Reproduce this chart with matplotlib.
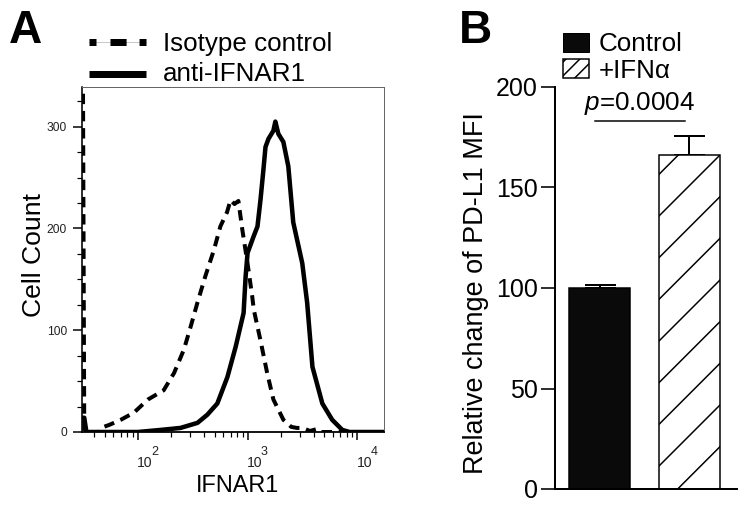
import matplotlib
matplotlib.use('Agg')
import matplotlib.pyplot as plt
from matplotlib.lines import Line2D
from matplotlib.patches import Rectangle
from matplotlib.ticker import FixedLocator, NullFormatter

DPI = 125
W, H = 748, 505


def P(px):
    """pixels -> points at the figure dpi"""
    return px * 72.0 / DPI


plt.rcParams['font.family'] = ['Liberation Sans', 'DejaVu Sans']
plt.rcParams['mathtext.fontset'] = 'custom'
plt.rcParams['mathtext.rm'] = 'Liberation Sans'
plt.rcParams['mathtext.it'] = 'Liberation Sans:italic'
plt.rcParams['hatch.linewidth'] = P(1.5)
plt.rcParams['hatch.color'] = 'black'

# ---------------- data: panel A (flow histogram) ----------------
iso_x = [31.5, 32.5, 44, 46, 55, 70, 92, 124, 172, 214, 263, 302, 349, 412, 494,
         565, 650, 700, 760, 825, 895, 998, 1103, 1140, 1311, 1508, 1718, 2119,
         2500, 2815, 3170, 3700, 4300, 4700, 17000]
iso_y = [400, 0, 0, 4, 7, 12, 19, 32, 41, 58, 81, 103, 127, 153, 179,
         202, 216, 228, 224, 227, 199, 166, 133, 120, 90, 58, 32, 12,
         5, 4, 4, 1, 3, 0, 0]

sol_x = [31.5, 32.5, 34, 100, 160, 245, 350, 430, 530, 655, 780, 920, 960, 1000,
         1133, 1231, 1311, 1395, 1456, 1549, 1718, 1791, 1907, 2119, 2351, 2607,
         3148, 3491, 3900, 4800, 5900, 7300, 8500, 17000]
sol_y = [14, 14, 0, 0, 2, 4, 9, 17, 28, 54, 84, 117, 153, 176,
         192, 202, 228, 258, 280, 288, 296, 305, 293, 285, 261, 206,
         166, 127, 64, 28, 12, 2, 0, 0]

series_labels = ['Isotype control', 'anti-IFNAR1']
a_yticks = [0, 100, 200, 300]
a_xticks = [100, 1000, 10000]
a_xtick_base = ['10', '10', '10']
a_xtick_exp = ['2', '3', '4']

# ---------------- data: panel B (bar chart) ----------------
groups = ['Control', '+IFN\u03b1']
mfi = [100, 166]
mfi_err = [1.7, 9.5]
p_label = '$p$=0.0004'
b_yticks = [0, 50, 100, 150, 200]

fig = plt.figure(figsize=(W / DPI, H / DPI), dpi=DPI)


def fx(px):
    return px / W


def fy(py):
    return 1 - py / H


# ================= Panel A =================
axA = fig.add_axes([fx(82), fy(432), (384 - 82) / W, (432 - 87) / H])
axA.plot(iso_x, iso_y, color='black', lw=P(4), ls=(0, (2.6, 1.7)),
         solid_capstyle='butt')
axA.plot(sol_x, sol_y, color='black', lw=P(4.5), solid_joinstyle='round')
axA.set_xscale('log')
axA.set_xlim(31, 17500)
axA.set_ylim(0, 339)

axA.set_yticks(a_yticks)
axA.yaxis.set_minor_locator(FixedLocator([25, 50, 75, 125, 150, 175, 225, 250, 275, 325]))
axA.set_xticks(a_xticks)
axA.set_xticklabels([''] * len(a_xticks))
axA.xaxis.set_minor_locator(FixedLocator(
    [40, 50, 60, 70, 80, 90, 200, 300, 400, 500, 600, 700, 800, 900,
     2000, 3000, 4000, 5000, 6000, 7000, 8000, 9000]))
axA.xaxis.set_minor_formatter(NullFormatter())

# decade labels: "10" with a raised exponent
for t, b, e in zip(a_xticks, a_xtick_base, a_xtick_exp):
    axA.annotate(b, xy=(t, 0), xycoords=('data', 'axes fraction'),
                 xytext=(P(-0.5), -P(24)), textcoords='offset points',
                 ha='left', va='top', fontsize=P(14), color='#222222')
    axA.annotate(e, xy=(t, 0), xycoords=('data', 'axes fraction'),
                 xytext=(P(13), -P(14)), textcoords='offset points',
                 ha='left', va='top', fontsize=P(12.5), color='#222222')

axA.tick_params(axis='y', which='major', direction='out', length=P(9), width=P(1.5),
                labelsize=P(12), pad=P(6), colors='black', labelcolor='#222222')
axA.tick_params(axis='y', which='minor', direction='out', length=P(5), width=P(1.2))
axA.tick_params(axis='x', which='major', direction='out', length=P(8), width=P(1.5))
axA.tick_params(axis='x', which='minor', direction='out', length=P(5), width=P(1.2))

axA.spines['left'].set_linewidth(P(1.6))
axA.spines['bottom'].set_linewidth(P(1.8))
for s in ['top', 'right']:
    axA.spines[s].set_linewidth(P(1))
    axA.spines[s].set_color('#666666')

axA.set_ylabel('Cell Count', fontsize=P(26.5))
axA.yaxis.set_label_coords((46 - 82) / 302, (432 - 255) / 345)
axA.set_xlabel('IFNAR1', fontsize=P(23.5), va='top')
axA.xaxis.set_label_coords((237.5 - 82) / 302, (432 - 474) / 345)

# legend A (drawn in figure coordinates)
fig.add_artist(Line2D([fx(89), fx(146)], [fy(41.5), fy(41.5)], color='#c8c8c8',
                      lw=P(1), transform=fig.transFigure))
fig.add_artist(Line2D([fx(89), fx(146)], [fy(41.5), fy(41.5)], color='black',
                      lw=P(7), ls=(0, (1.0, 2.0, 2.3, 1.85, 1.0, 20)),
                      dash_capstyle='butt', transform=fig.transFigure))
fig.add_artist(Line2D([fx(89), fx(146)], [fy(73.5), fy(73.5)], color='black',
                      lw=P(7), solid_capstyle='butt', transform=fig.transFigure))
fig.text(fx(163), fy(51), series_labels[0], fontsize=P(26), va='baseline')
fig.text(fx(163), fy(81), series_labels[1], fontsize=P(26), va='baseline')

fig.text(fx(9), fy(43), 'A', fontsize=P(46), fontweight='bold', va='baseline')

# ================= Panel B =================
axB = fig.add_axes([fx(555), fy(489), (737 - 555) / W, (489 - 87) / H])
xpos = list(range(len(groups)))
bars = axB.bar(xpos, mfi, width=0.68, color=['#0a0a0a', 'white'],
               edgecolor='black', linewidth=P(1.5), zorder=2)
bars[1].set_hatch('/')
axB.errorbar(xpos, mfi, yerr=[[0] * len(mfi), mfi_err], fmt='none', ecolor='black',
             elinewidth=P(2), capsize=P(15.5), capthick=P(2), zorder=1,
             clip_on=False)
axB.set_xlim(-0.5, 1.535)
axB.set_ylim(0, 200)
axB.set_yticks(b_yticks)
axB.set_xticks([])
axB.tick_params(axis='y', direction='out', length=P(14), width=P(1.6),
                labelsize=P(25), pad=P(3))
for s in ['top', 'right']:
    axB.spines[s].set_visible(False)
axB.spines['left'].set_linewidth(P(2))
axB.spines['bottom'].set_linewidth(P(2))

axB.set_ylabel('Relative change of PD-L1 MFI', fontsize=P(27))
axB.yaxis.set_label_coords((489 - 555) / 182, (489 - 293.5) / 402)

# significance annotation
axB.plot([-0.05, 0.955], [183, 183], color='black', lw=P(1.5), clip_on=False)
axB.text(0.45, 188.5, p_label, ha='center', va='baseline', fontsize=P(26),
         clip_on=False)

# legend B
fig.add_artist(Rectangle((fx(563), fy(52)), 26 / W, 19 / H, facecolor='#0a0a0a',
                         edgecolor='black', lw=P(1), transform=fig.transFigure))
fig.add_artist(Rectangle((fx(563), fy(78)), 26 / W, 19 / H, facecolor='white',
                         edgecolor='black', lw=P(1.5), hatch='///',
                         transform=fig.transFigure))
fig.text(fx(599), fy(51), groups[0], fontsize=P(26), va='baseline')
fig.text(fx(599), fy(78), groups[1], fontsize=P(26), va='baseline')

fig.text(fx(459), fy(43), 'B', fontsize=P(46), fontweight='bold', va='baseline')

fig.savefig('out.png', dpi=DPI)
